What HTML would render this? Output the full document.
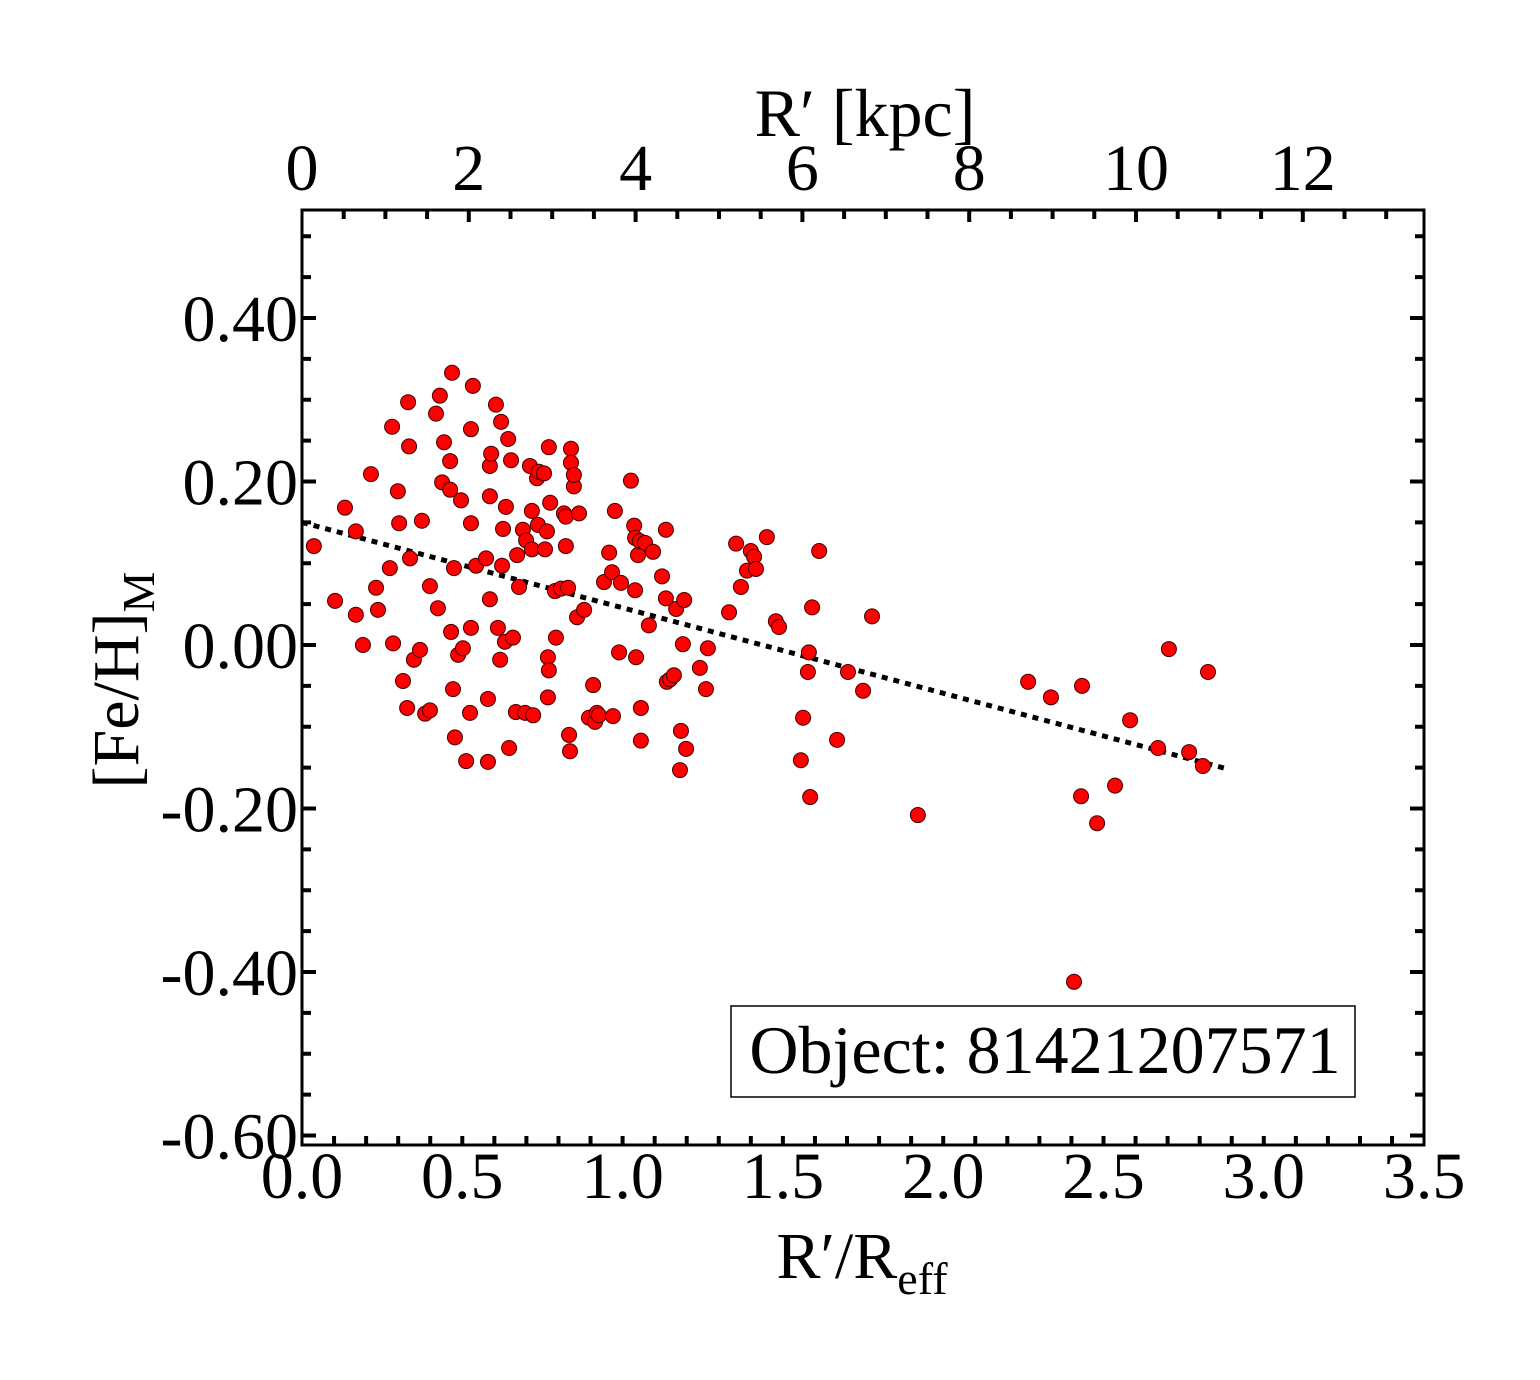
<!DOCTYPE html>
<html><head><meta charset="utf-8"><style>
html,body{margin:0;padding:0;background:#fff}
svg text{font-family:"Liberation Serif",serif;fill:#000}
</style></head><body>
<svg id="chart" width="1540" height="1375" xmlns="http://www.w3.org/2000/svg">
<g id="ticks"></g>
<g id="labels"></g>
<line id="fit" stroke="#000" stroke-width="5" stroke-dasharray="6,6"/>
<g id="points"></g>
<rect x="302" y="210" width="1122" height="935" fill="none" stroke="#000" stroke-width="3"/>
<text x="865" y="136" font-size="68" text-anchor="middle">R′ [kpc]</text>
<text x="862" y="1278" font-size="66" text-anchor="middle">R′/R<tspan font-size="46" dy="16">eff</tspan></text>
<text transform="translate(138,680) rotate(-90)" font-size="66" text-anchor="middle">[Fe/H]<tspan font-size="46" dy="16">M</tspan></text>
<g>
<rect x="731" y="1006" width="624" height="91" fill="#fff" stroke="#000" stroke-width="1.5"/>
<text x="1045" y="1073" font-size="68" text-anchor="middle">Object: 81421207571</text>
</g>
</svg>
<script>
const xTickLabels=["0.0","0.5","1.0","1.5","2.0","2.5","3.0","3.5"];
const xTickValues=[0,0.5,1,1.5,2,2.5,3,3.5];
const topTickLabels=["0","2","4","6","8","10","12"];
const topTickValues=[0,2,4,6,8,10,12];
const yTickLabels=["0.40","0.20","0.00","-0.20","-0.40","-0.60"];
const yTickValues=[0.4,0.2,0,-0.2,-0.4,-0.6];
const fitX=[0,2.89];
const fitY=[0.15,-0.152];
const xs=[.037,.103,.134,.168,.168,.190,.215,.231,.237,.274,.281,.284,.299,.303,.315,.328,.331,.334,.337,.349,.368,.374,.384,.399,.399,.418,.424,.430,.437,.443,.462,.462,.465,.468,.471,.474,.477,.487,.496,.502,.512,.524,.527,.527,.527,.533,.543,.574,.580,.580,.586,.586,.586,.590,.605,.611,.618,.621,.624,.627,.633,.636,.643,.646,.652,.658,.667,.671,.677,.689,.696,.699,.711,.717,.717,.721,.733,.739,.736,.755,.758,.764,.767,.767,.770,.770,.774,.789,.792,.808,.817,.823,.823,.830,.833,.836,.839,.839,.848,.848,.858,.864,.880,.895,.908,.914,.920,.926,.942,.958,.967,.970,.976,.989,.995,1.026,1.036,1.039,1.039,1.042,1.048,1.054,1.057,1.057,1.070,1.082,1.095,1.123,1.135,1.138,1.135,1.148,1.160,1.167,1.179,1.182,1.188,1.192,1.198,1.241,1.260,1.266,1.332,1.354,1.369,1.388,1.400,1.410,1.416,1.450,1.478,1.488,1.556,1.563,1.578,1.581,1.585,1.591,1.613,1.669,1.703,1.750,1.778,1.921,2.265,2.336,2.430,2.433,2.480,2.536,2.583,2.670,2.704,2.767,2.810,2.826,2.408];
const ys=[.121,.054,.168,.037,.139,.000,.209,.070,.043,.094,.267,.002,.188,.149,-.044,-.077,.297,.243,.106,-.018,-.006,.152,-.084,-.080,.072,.283,.045,.305,.199,.248,.225,.190,.016,.333,-.054,.094,-.113,-.012,.177,-.004,-.142,-.083,.149,.021,.264,.317,.097,.106,-.066,-.143,.182,.056,.219,.234,.294,.021,-.018,.273,.097,.142,.004,.169,.252,-.126,.226,.009,-.082,.110,.071,.141,-.083,.128,.219,.164,.117,-.086,.204,.212,.147,.210,.117,.139,-.064,-.015,-.031,.242,.174,.066,.009,.069,.161,.121,.157,.070,-.110,-.130,.240,.223,.194,.208,.034,.161,.043,-.089,-.049,-.094,-.083,-.086,.077,.113,.089,-.087,.164,-.009,.076,.201,.146,.067,.131,-.015,.110,.127,-.077,-.117,.125,.024,.114,.084,.141,-.045,.057,-.042,-.037,.044,-.153,-.105,.001,.055,-.127,-.028,-.054,-.004,.040,.124,.071,.091,.115,.108,.093,.132,.029,.022,-.141,-.089,-.033,-.009,-.186,.046,.115,-.116,-.033,-.056,.035,-.208,-.045,-.064,-.185,-.050,-.218,-.172,-.092,-.126,-.005,-.131,-.148,-.033,-.412];

const L=302,R=1424,T=210,B=1145;
const X=v=>L+v*320.6;
const K=v=>L+v*83.4;
const Y=v=>645-v*817.5;
const NS="http://www.w3.org/2000/svg";
function mk(tag,attrs,parent){const e=document.createElementNS(NS,tag);for(const k in attrs)e.setAttribute(k,attrs[k]);parent.appendChild(e);return e;}
const tg=document.getElementById('ticks'),lg=document.getElementById('labels');
function tick(x1,y1,x2,y2){const l=mk('line',{x1,y1,x2,y2,stroke:'#000','stroke-width':4},tg);

}
for(let i=1;i<35;i++){const x=X(i/10);tick(x,B,x,B-9);}
for(let i=1;i*0.5*83.4<R-L-5;i++){const x=K(i*0.5);const len=(i%4==0)?12:9;tick(x,T,x,T+len);}
for(let i=-12;i<=10;i++){const v=i*0.05;const y=Y(v);if(y<T+3||y>B-3)continue;const len=(i%4==0)?14:9;tick(L,y,L+len,y);tick(R,y,R-len,y);}
xTickValues.forEach((v,i)=>{const t=mk('text',{x:X(v),y:1198,'font-size':66,'text-anchor':'middle'},lg);t.textContent=xTickLabels[i];

});
topTickValues.forEach((v,i)=>{const t=mk('text',{x:K(v),y:190,'font-size':66,'text-anchor':'middle'},lg);t.textContent=topTickLabels[i];

});
yTickValues.forEach((v,i)=>{const t=mk('text',{x:298,y:Y(v)+23,'font-size':66,'text-anchor':'end'},lg);t.textContent=yTickLabels[i];

});
const f=document.getElementById('fit');
f.setAttribute('x1',X(fitX[0]));f.setAttribute('y1',Y(fitY[0]));f.setAttribute('x2',X(fitX[1]));f.setAttribute('y2',Y(fitY[1]));
const pg=document.getElementById('points');
xs.forEach((v,i)=>{const c=mk('circle',{cx:X(v),cy:Y(ys[i]),r:7.5,fill:'#ff0000',stroke:'#400','stroke-width':1},pg);

});
</script>
</body></html>
